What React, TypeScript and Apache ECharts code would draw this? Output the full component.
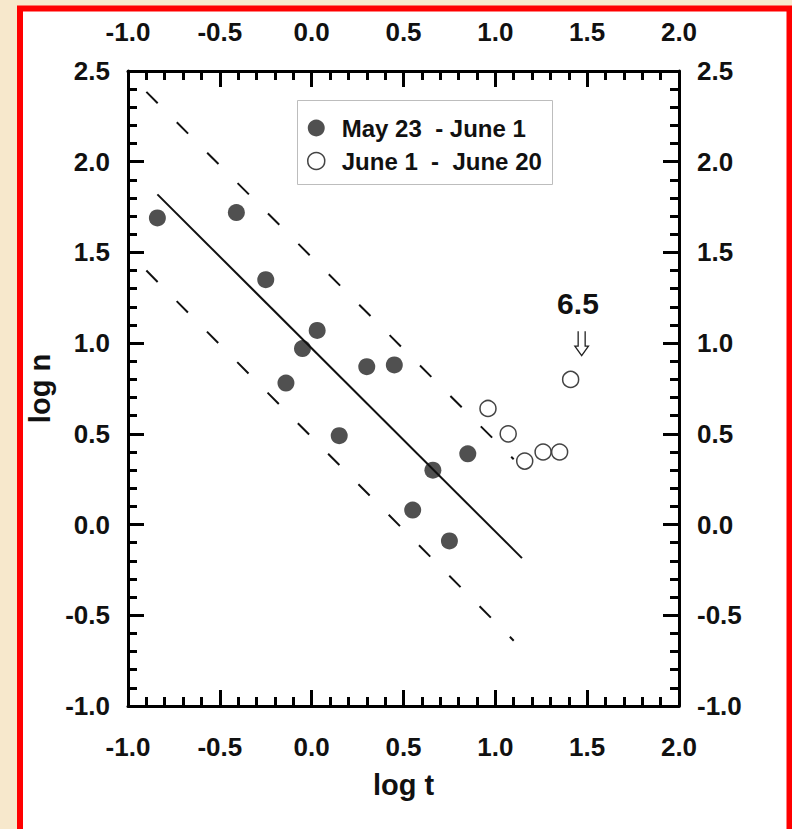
import React, { useEffect, useRef } from 'react';
import * as echarts from 'echarts';

// ---- data ----
const xTicks = [-1.0, -0.5, 0.0, 0.5, 1.0, 1.5, 2.0];
const yTicks = [-1.0, -0.5, 0.0, 0.5, 1.0, 1.5, 2.0, 2.5];
const xName = 'log t';
const yName = 'log n';
const earlyLabel = 'May 23  - June 1';
const lateLabel = 'June 1  -  June 20';
const earlyX = [-0.84, -0.41, -0.25, -0.05, 0.03, -0.14, 0.15, 0.30, 0.45, 0.55, 0.66, 0.75, 0.85];
const earlyY = [1.69, 1.72, 1.35, 0.97, 1.07, 0.78, 0.49, 0.87, 0.88, 0.08, 0.30, -0.09, 0.39];
const lateX = [0.96, 1.07, 1.16, 1.26, 1.35, 1.41];
const lateY = [0.64, 0.50, 0.35, 0.40, 0.40, 0.80];
const fitLine = [[-0.84, 1.82], [1.145, -0.185]];
const upperBand = [[-0.9, 2.385], [1.1, 0.36]];
const lowerBand = [[-0.9, 1.40], [1.1, -0.64]];
const noteText = '6.5';
const notePos = [1.45, 1.22];
const arrowPos = [1.47, 1.0];

const FONT = "'Liberation Sans Narrow', 'Arial Narrow', 'Liberation Sans', Arial, sans-serif";

const zip = (xs: number[], ys: number[]) => xs.map((x, i) => [x, ys[i]]);

export default function App() {
  const ref = useRef<HTMLDivElement>(null);

  useEffect(() => {
    if (!ref.current) return;
    const chart = echarts.init(ref.current, undefined, { renderer: 'svg' });

    const labelStyle = {
      fontFamily: FONT,
      fontWeight: 'bold' as const,
      fontSize: 26,
      color: '#111',
      formatter: (v: number) => v.toFixed(1),
    };
    const axisCommon = {
      type: 'value' as const,
      interval: 0.5,
      splitLine: { show: false },
      axisLine: { show: true, onZero: false, lineStyle: { color: '#000', width: 3 } },
      axisTick: { show: true, inside: true, length: 16, lineStyle: { color: '#000', width: 3 } },
      minorTick: { show: true, splitNumber: 5, length: 9, lineStyle: { color: '#000', width: 3 } },
      minorSplitLine: { show: false },
    };
    const xMin = xTicks[0], xMax = xTicks[xTicks.length - 1];
    const yMin = yTicks[0], yMax = yTicks[yTicks.length - 1];

    const arrowShape = [[-3.5, -12], [-3.5, 3], [-6.8, 3], [0, 12.5], [6.8, 3], [3.5, 3], [3.5, -12]];

    const option: any = {
      animation: false,
      backgroundColor: '#F7E8CC',
      textStyle: { fontFamily: FONT },
      graphic: [
        {
          type: 'rect',
          z: -10,
          silent: true,
          shape: { x: 20, y: 8.5, width: 769.5, height: 824 },
          style: { fill: '#ffffff', stroke: '#ff0000', lineWidth: 6 },
        },
        {
          type: 'rect',
          z: -5,
          silent: true,
          shape: { x: 297.5, y: 100.5, width: 255, height: 84 },
          style: { fill: '#ffffff', stroke: '#bdbdbd', lineWidth: 1 },
        },
      ],
      grid: { left: 128, top: 71, width: 551, height: 635, containLabel: false, outerBoundsMode: 'none' },
      legend: {
        orient: 'vertical',
        left: 307,
        top: 114,
        padding: 0,
        itemGap: 5,
        itemWidth: 17,
        itemHeight: 17,
        selectedMode: false,
        textStyle: {
          fontFamily: FONT,
          fontWeight: 'bold',
          fontSize: 24,
          lineHeight: 28,
          color: '#111',
          padding: [0, 0, 0, 12],
        },
        data: [
          { name: earlyLabel, icon: 'circle', itemStyle: { color: '#505050' } },
          { name: lateLabel, icon: 'circle', itemStyle: { color: '#fff', borderColor: '#444', borderWidth: 1.5 } },
        ],
      },
      xAxis: [
        {
          ...axisCommon,
          position: 'bottom',
          min: xMin,
          max: xMax,
          name: xName,
          nameLocation: 'middle',
          nameGap: 64,
          nameTextStyle: { fontFamily: FONT, fontWeight: 'bold', fontSize: 29, color: '#111' },
          axisLabel: { ...labelStyle, margin: 28 },
        },
        {
          ...axisCommon,
          position: 'top',
          min: xMin,
          max: xMax,
          axisLabel: { ...labelStyle, margin: 26 },
        },
      ],
      yAxis: [
        {
          ...axisCommon,
          position: 'left',
          min: yMin,
          max: yMax,
          name: yName,
          nameLocation: 'middle',
          nameGap: 63,
          nameTextStyle: { fontFamily: FONT, fontWeight: 'bold', fontSize: 29, color: '#111' },
          axisLabel: { ...labelStyle, margin: 18 },
        },
        {
          ...axisCommon,
          position: 'right',
          min: yMin,
          max: yMax,
          axisLabel: { ...labelStyle, margin: 18 },
        },
      ],
      series: [
        {
          name: earlyLabel,
          type: 'scatter',
          data: zip(earlyX, earlyY),
          symbol: 'circle',
          symbolSize: 17,
          itemStyle: { color: '#505050', opacity: 1 },
          z: 3,
        },
        {
          name: lateLabel,
          type: 'scatter',
          data: zip(lateX, lateY),
          symbol: 'circle',
          symbolSize: 16,
          itemStyle: { color: '#ffffff', borderColor: '#444', borderWidth: 1.5, opacity: 1 },
          z: 3,
        },
        {
          name: 'fit',
          type: 'line',
          data: fitLine,
          symbol: 'none',
          lineStyle: { color: '#111', width: 2 },
          z: 4,
        },
        {
          name: 'upper',
          type: 'line',
          data: upperBand,
          symbol: 'none',
          lineStyle: { color: '#111', width: 2, type: [16, 27] },
          z: 4,
        },
        {
          name: 'lower',
          type: 'line',
          data: lowerBand,
          symbol: 'none',
          lineStyle: { color: '#111', width: 2, type: [16, 27] },
          z: 4,
        },
        {
          name: 'annotation',
          type: 'custom',
          clip: false,
          z: 5,
          data: [[notePos[0], notePos[1], arrowPos[0], arrowPos[1]]],
          renderItem: (params: any, api: any) => {
            const t = api.coord([api.value(0), api.value(1)]);
            const a = api.coord([api.value(2), api.value(3)]);
            return {
              type: 'group',
              children: [
                {
                  type: 'text',
                  x: t[0],
                  y: t[1],
                  style: {
                    text: noteText,
                    fontFamily: FONT,
                    fontWeight: 'bold',
                    fontSize: 30,
                    fill: '#111',
                    align: 'center',
                    verticalAlign: 'middle',
                  },
                },
                {
                  type: 'polyline',
                  shape: { points: arrowShape.map(([dx, dy]) => [a[0] + dx, a[1] + dy]) },
                  style: { stroke: '#222', lineWidth: 1.3, fill: 'none' },
                },
              ],
            };
          },
        },
      ],
    };

    chart.setOption(option);
    return () => chart.dispose();
  }, []);

  return (
    <div
      ref={ref}
      style={{ position: 'fixed', left: 0, top: 0, width: 792, height: 829 }}
    />
  );
}
